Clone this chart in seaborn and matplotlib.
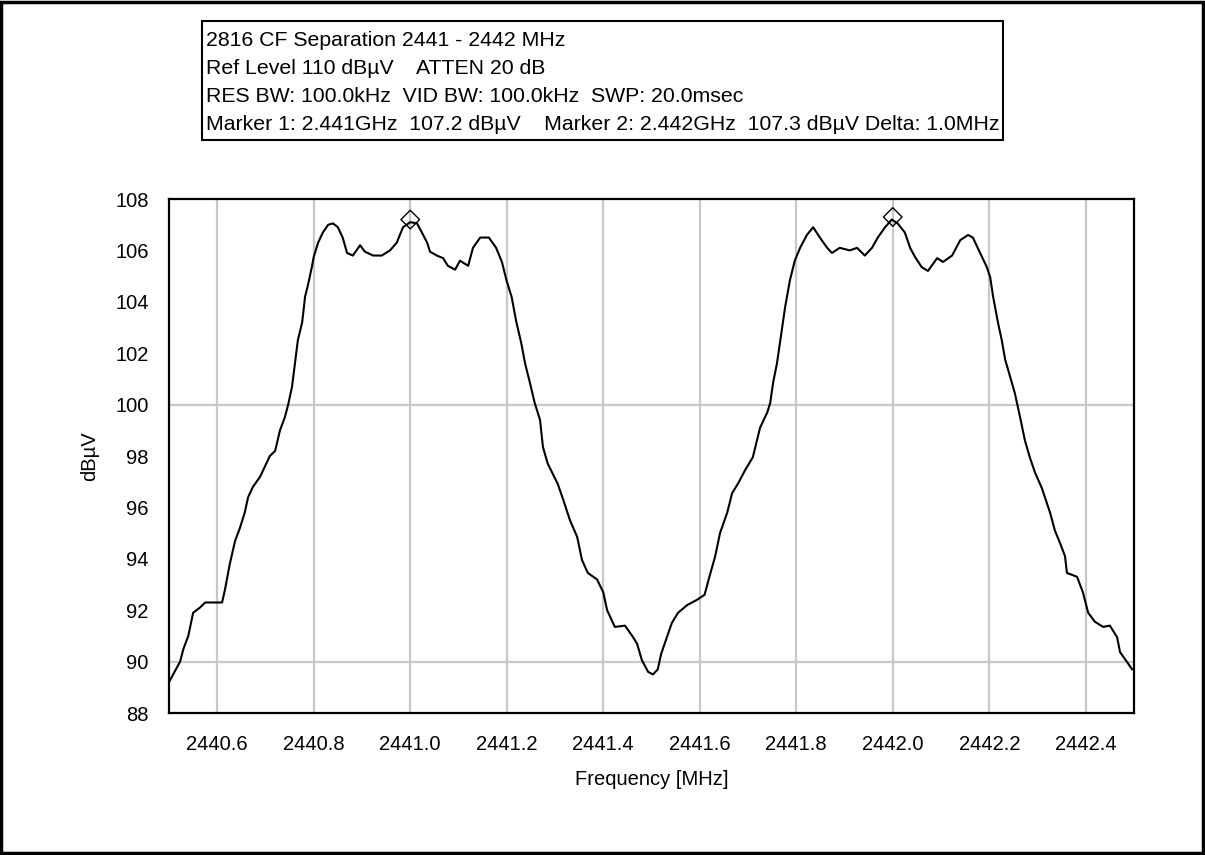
import numpy as np
import pandas as pd
import matplotlib
matplotlib.use("Agg")
import matplotlib.pyplot as plt
from matplotlib.patches import Rectangle
import seaborn as sns

# ---- data ----
freq_mhz = [
    2440.500, 2440.523, 2440.530, 2440.540, 2440.550, 2440.564, 2440.575, 2440.610,
    2440.616, 2440.626, 2440.637, 2440.647, 2440.657, 2440.664, 2440.674, 2440.689,
    2440.709, 2440.720, 2440.730, 2440.740, 2440.747, 2440.755, 2440.761, 2440.767,
    2440.776, 2440.782, 2440.788, 2440.796, 2440.800, 2440.809, 2440.819, 2440.830,
    2440.840, 2440.850, 2440.860, 2440.869, 2440.881, 2440.896, 2440.906, 2440.923,
    2440.941, 2440.958, 2440.972, 2440.985, 2441.000, 2441.014, 2441.024, 2441.035,
    2441.041, 2441.055, 2441.068, 2441.078, 2441.093, 2441.103, 2441.120, 2441.130,
    2441.145, 2441.163, 2441.178, 2441.190, 2441.200, 2441.210, 2441.220, 2441.230,
    2441.238, 2441.248, 2441.258, 2441.269, 2441.275, 2441.285, 2441.306, 2441.317,
    2441.331, 2441.346, 2441.356, 2441.368, 2441.387, 2441.400, 2441.408, 2441.424,
    2441.445, 2441.460, 2441.470, 2441.480, 2441.493, 2441.503, 2441.513, 2441.520,
    2441.532, 2441.542, 2441.555, 2441.574, 2441.594, 2441.610, 2441.620, 2441.632,
    2441.642, 2441.657, 2441.667, 2441.680, 2441.694, 2441.710, 2441.725, 2441.740,
    2441.746, 2441.752, 2441.760, 2441.770, 2441.777, 2441.787, 2441.797, 2441.808,
    2441.822, 2441.835, 2441.849, 2441.864, 2441.874, 2441.890, 2441.911, 2441.926,
    2441.942, 2441.957, 2441.969, 2441.984, 2441.998, 2442.010, 2442.025, 2442.036,
    2442.046, 2442.060, 2442.073, 2442.092, 2442.104, 2442.123, 2442.140, 2442.156,
    2442.166, 2442.181, 2442.195, 2442.202, 2442.208, 2442.218, 2442.226, 2442.233,
    2442.243, 2442.253, 2442.264, 2442.274, 2442.284, 2442.295, 2442.309, 2442.326,
    2442.336, 2442.347, 2442.357, 2442.361, 2442.382, 2442.394, 2442.405, 2442.419,
    2442.436, 2442.450, 2442.465, 2442.471, 2442.485, 2442.496, 2442.500,
]
level_dbuv = [
    89.2, 90.0, 90.5, 91.0, 91.9, 92.1, 92.3, 92.3,
    92.8, 93.8, 94.7, 95.2, 95.8, 96.4, 96.8, 97.2,
    98.0, 98.2, 99.0, 99.5, 100.0, 100.7, 101.6, 102.5,
    103.2, 104.2, 104.65, 105.35, 105.75, 106.3, 106.7, 107.0,
    107.05, 106.9, 106.5, 105.9, 105.8, 106.2, 105.95, 105.8,
    105.8, 106.0, 106.3, 106.9, 107.1, 107.05, 106.7, 106.3,
    105.95, 105.8, 105.7, 105.4, 105.25, 105.6, 105.4, 106.1,
    106.5, 106.5, 106.1, 105.55, 104.8, 104.2, 103.2, 102.4,
    101.6, 100.85, 100.06, 99.4, 98.35, 97.7, 96.9, 96.3,
    95.5, 94.85, 93.95, 93.45, 93.2, 92.7, 92.0, 91.35,
    91.4, 91.0, 90.7, 90.06, 89.6, 89.5, 89.7, 90.3,
    90.95, 91.5, 91.9, 92.2, 92.4, 92.6, 93.3, 94.1,
    95.0, 95.8, 96.55, 96.95, 97.45, 97.95, 99.1, 99.7,
    100.06, 100.85, 101.6, 102.9, 103.8, 104.85, 105.6, 106.1,
    106.6, 106.9, 106.5, 106.1, 105.9, 106.1, 106.0, 106.1,
    105.8, 106.1, 106.5, 106.9, 107.2, 107.05, 106.7, 106.1,
    105.75, 105.35, 105.2, 105.7, 105.55, 105.8, 106.4, 106.6,
    106.5, 105.9, 105.35, 104.95, 104.2, 103.2, 102.5, 101.75,
    101.1, 100.45, 99.5, 98.6, 97.95, 97.35, 96.75, 95.8,
    95.1, 94.6, 94.1, 93.45, 93.3, 92.7, 91.9, 91.55,
    91.35, 91.4, 90.95, 90.37, 90.0, 89.7, 89.7,
]
marker_freq = [2441.0, 2442.0]
marker_level = [107.2, 107.3]

x_ticks = [2440.6, 2440.8, 2441.0, 2441.2, 2441.4, 2441.6, 2441.8, 2442.0, 2442.2, 2442.4]
y_ticks = [88, 90, 92, 94, 96, 98, 100, 102, 104, 106, 108]

info_lines = [
    "2816 CF Separation 2441 - 2442 MHz",
    "Ref Level 110 dB\u00b5V    ATTEN 20 dB",
    "RES BW: 100.0kHz  VID BW: 100.0kHz  SWP: 20.0msec",
    "Marker 1: 2.441GHz  107.2 dB\u00b5V    Marker 2: 2.442GHz  107.3 dB\u00b5V Delta: 1.0MHz",
]

df = pd.DataFrame({"Frequency": freq_mhz, "Level": level_dbuv})
mk = pd.DataFrame({"Frequency": marker_freq, "Level": marker_level})

# ---- style ----
sns.set_theme(style="white")
plt.rcParams["font.family"] = ["Liberation Sans", "DejaVu Sans"]

fig = plt.figure(figsize=(12.05, 8.55), dpi=100)
ax = fig.add_axes([169 / 1205, 1 - 713 / 855, (1134 - 169) / 1205, (713 - 199) / 855])

sns.lineplot(data=df, x="Frequency", y="Level", ax=ax, color="black",
             linewidth=1.5, estimator=None, sort=False)
sns.scatterplot(data=mk, x="Frequency", y="Level", ax=ax, marker="D", s=90,
                facecolor="none", edgecolor="black", linewidth=1.0, zorder=5)

ax.set_xlim(2440.5, 2442.5)
ax.set_ylim(88, 108)
ax.set_xticks(x_ticks)
ax.set_xticklabels([f"{v:.1f}" for v in x_ticks])
ax.set_xticks(np.arange(2440.5, 2442.51, 0.1), minor=True)
ax.set_yticks(y_ticks)
ax.set_yticklabels([str(v) for v in y_ticks])
ax.set_yticks(np.arange(88, 108.1, 1), minor=True)

ax.tick_params(axis="both", which="both", direction="inout", length=9, width=1.4,
               color="black", labelsize=14.5, labelcolor="black")
ax.tick_params(axis="x", which="major", pad=11)
ax.tick_params(axis="y", which="major", pad=10)

# grid: vertical at every labelled x tick, horizontal every 10 dB
for xv in x_ticks:
    ax.axvline(xv, color="#c8c8c8", linewidth=1.6, zorder=0)
for yv in [90, 100]:
    ax.axhline(yv, color="#c8c8c8", linewidth=1.6, zorder=0)
ax.grid(False)

for s in ax.spines.values():
    s.set_visible(True)
    s.set_color("black")
    s.set_linewidth(1.6)

ax.set_xlabel("Frequency [MHz]", fontsize=14.5, color="black", labelpad=12)
ax.set_ylabel("dB\u00b5V", fontsize=14.5, color="black", labelpad=12)

# info box at top
fig.patches.append(Rectangle((202 / 1205, 1 - 140 / 855), (1003 - 202) / 1205, (140 - 21) / 855,
                             transform=fig.transFigure, fill=False, edgecolor="black",
                             linewidth=1.5))
for i, line in enumerate(info_lines):
    fig.text(206 / 1205, 1 - (41 + 27.7 * i) / 855, line, fontsize=15.3,
             ha="left", va="center", color="black")

# outer figure border
fig.patches.append(Rectangle((0.001, 0.002), 0.997, 0.996, transform=fig.transFigure,
                             fill=False, edgecolor="black", linewidth=2.5))

fig.savefig("out.png", dpi=100)
